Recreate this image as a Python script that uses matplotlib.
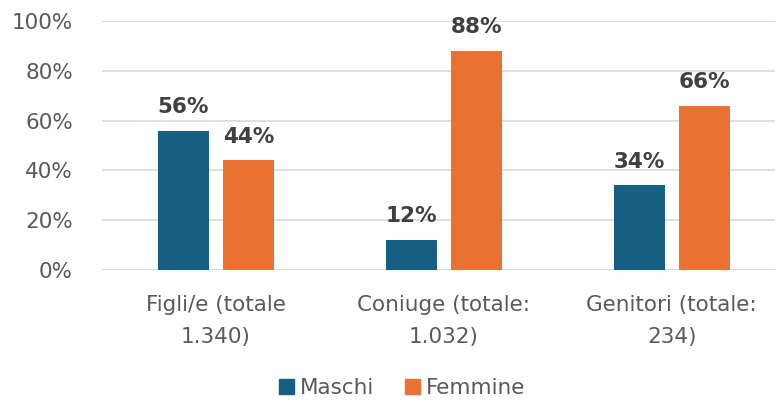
import numpy as np
import matplotlib
matplotlib.use("Agg")
import matplotlib.pyplot as plt
from matplotlib.ticker import PercentFormatter
from matplotlib.patches import Patch

plt.rcParams['font.family'] = ['DejaVu Sans']

categories = ["Figli/e (totale\n1.340)", "Coniuge (totale:\n1.032)", "Genitori (totale:\n234)"]
maschi = [0.56, 0.12, 0.34]
femmine = [0.44, 0.88, 0.66]
series_names = ["Maschi", "Femmine"]
colors = ["#156082", "#E97132"]

fig = plt.figure(figsize=(7.81, 4.05), dpi=100)
ax = fig.add_axes([0.1306, 0.3333, 0.8614, 0.6148])

x = np.arange(len(categories))
w = 0.224
off = 0.1425
for vals, name, c, sign in [(maschi, series_names[0], colors[0], -1), (femmine, series_names[1], colors[1], 1)]:
    bars = ax.bar(x + sign * off, vals, width=w, color=c, label=name, zorder=3)
    for b, v in zip(bars, vals):
        ax.text(b.get_x() + b.get_width() / 2, v + 0.055, f"{round(v*100)}%",
                ha='center', va='bottom', fontsize=15.5, fontweight='bold', color='#404040')

# the plot area in the original stops a bit short of the last category's half-step
ax.set_xlim(-0.5, 2.452)
ax.set_ylim(0, 1)
ax.set_yticks(np.arange(0, 1.01, 0.2))
ax.yaxis.set_major_formatter(PercentFormatter(1.0, decimals=0))
ax.grid(axis='y', color='#d9d9d9', linewidth=1.2, zorder=0)
for s in ax.spines.values():
    s.set_visible(False)
ax.tick_params(axis='both', length=0, labelsize=15.5, labelcolor='#595959')
ax.tick_params(axis='y', pad=21)
ax.tick_params(axis='x', pad=18)
ax.set_xticks(x)
ax.set_xticklabels(categories, linespacing=1.75)

handles = [Patch(color=colors[0], label=series_names[0]), Patch(color=colors[1], label=series_names[1])]
fig.legend(handles=handles, loc='center', bbox_to_anchor=(0.515, 0.042), ncol=2, frameon=False,
           fontsize=15.5, labelcolor='#595959', handlelength=0.7, handleheight=0.7,
           handletextpad=0.3, columnspacing=1.4)

fig.savefig("out.png", dpi=100)
